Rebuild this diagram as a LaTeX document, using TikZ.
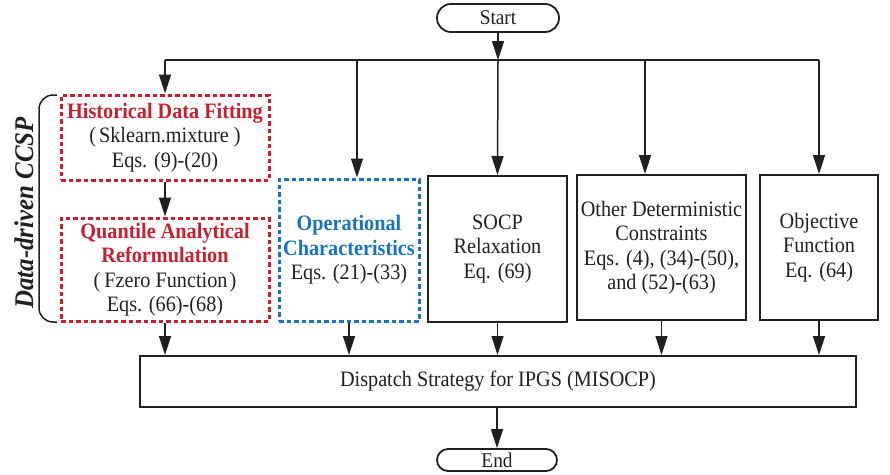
\documentclass[tikz,border=0pt]{standalone}
\usepackage{fontspec}
\setmainfont{Liberation Serif}[FakeStretch=0.92]
\usetikzlibrary{arrows.meta,shapes.misc}
\definecolor{myred}{RGB}{200,30,45}
\definecolor{myblue}{RGB}{25,115,190}
\definecolor{ink}{RGB}{35,31,32}
\tikzset{
  base/.style={draw=ink, line width=2pt, inner sep=0pt, align=center, text=ink,
    font=\fontsize{22}{24.5}\selectfont},
  redbox/.style={base, draw=myred, line width=3pt, dash pattern=on 4.5pt off 3pt},
  bluebox/.style={base, draw=myblue, line width=3pt, dash pattern=on 4.5pt off 3pt},
  term/.style={draw=ink, rounded rectangle, line width=1.8pt, inner sep=0pt, text=ink,
    font=\fontsize{21}{24}\selectfont},
  conn/.style={draw=ink, line width=1.5pt},
  arr/.style={conn, -{Triangle[length=19pt,width=12pt]}},
}
\newcommand{\redt}[1]{{\color{myred}\bfseries #1}}
\newcommand{\bluet}[1]{{\color{myblue}\bfseries #1}}
\begin{document}
\begin{tikzpicture}[x=1pt,y=-1pt]
\useasboundingbox (0,0) rectangle (890,474);

\node[term, minimum width=122pt, minimum height=28pt] (start) at (498,18) {Start};
\node[redbox, minimum width=208pt, minimum height=85pt] (hdf) at (165,137.5)
  {\redt{Historical Data Fitting}\\(\hspace{3pt}Sklearn.mixture )\\Eqs. (9)-(20)};
\node[redbox, minimum width=208pt, minimum height=103pt] (qar) at (165,269.5)
  {\redt{Quantile Analytical}\\\redt{Reformulation}\\(\hspace{4pt}Fzero Function\hspace{2pt})\\Eqs. (66)-(68)};
\node[bluebox, minimum width=140pt, minimum height=142pt] (oc) at (349,250)
  {\bluet{Operational}\\\bluet{Characteristics}\\Eqs. (21)-(33)};
\node[base, minimum width=139pt, minimum height=146pt] (socp) at (497.5,249)
  {SOCP\\Relaxation\\Eq. (69)};
\node[base, minimum width=169pt, minimum height=145pt] (oth) at (661.5,247.5)
  {Other Deterministic\\Constraints\\Eqs. (4), (34)-(50),\\and (52)-(63)};
\node[base, minimum width=118pt, minimum height=145pt] (obj) at (819,247.5)
  {Objective\\Function\\Eq. (64)};
\node[base, minimum width=716pt, minimum height=51pt] (disp) at (498,381.5)
  {Dispatch Strategy for IPGS (MISOCP)};
\node[term, minimum width=120pt, minimum height=22pt] (end) at (497,460) {End};

\node[rotate=90, text=ink, font=\fontsize{27}{30}\selectfont\bfseries\itshape] (lbl) at (24,213) {Data-driven CCSP};
\draw[conn, rounded corners=14pt] (57,95) -- (39,95) -- (39,322) -- (57,322);

\coordinate (bS) at (498,60);
\coordinate (bL) at (165,60);
\coordinate (b2) at (357,60);
\coordinate (b4) at (645,60);
\coordinate (bR) at (819,60);

\draw[arr] (start) -- (bS);
\draw[conn] (bL) -- (bR);
\draw[arr] (bL) -- (hdf.north);
\draw[arr] (b2) -- (b2 |- oc.north);
\draw[arr] (bS) -- (socp.north);
\draw[arr] (b4) -- (b4 |- oth.north);
\draw[arr] (bR) -- (obj.north);
\draw[arr] (hdf) -- (qar);

\draw[arr] (qar.south) -- (qar.south |- disp.north);
\draw[arr] (oc.south) -- (oc.south |- disp.north);
\draw[arr] (socp.south) -- (socp.south |- disp.north);
\draw[arr] (oth.south) -- (oth.south |- disp.north);
\draw[arr] (obj.south) -- (obj.south |- disp.north);
\draw[arr] (disp.south -| end.north) -- (end.north);
\end{tikzpicture}
\end{document}
